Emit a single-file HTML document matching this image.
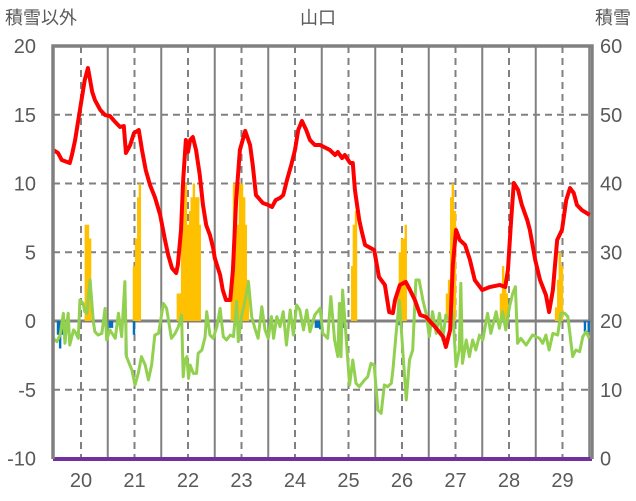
<!DOCTYPE html>
<html><head><meta charset="utf-8">
<style>
html,body{margin:0;padding:0;background:#fff;width:636px;height:501px;overflow:hidden}
svg text{font-family:"Liberation Sans","Noto Sans CJK JP",sans-serif;fill:#595959}
</style></head>
<body>
<svg id="chart" width="636" height="501" viewBox="0 0 636 501" xmlns="http://www.w3.org/2000/svg">
<text x="5" y="24" font-size="18">積雪以外</text>
<text x="318" y="24" font-size="18" text-anchor="middle">山口</text>
<text x="631" y="24" font-size="18" text-anchor="end">積雪</text>
<g id="grid"></g>
<g id="bars"></g>
<g id="lines"></g>
<g id="axes"></g>
</svg>
<script>
const yTicksLeft=[20,15,10,5,0,-5,-10];
const yTicksRight=[60,50,40,30,20,10,0];
const xYears=[20,21,22,23,24,25,26,27,28,29];
const redT=[19.48,19.57,19.64,19.79,19.83,19.89,19.98,20.07,20.13,20.21,20.26,20.36,20.45,20.54,20.64,20.73,20.80,20.84,20.92,20.99,21.08,21.14,21.21,21.29,21.38,21.48,21.57,21.63,21.70,21.78,21.81,21.87,21.91,21.96,22.00,22.04,22.09,22.15,22.22,22.28,22.34,22.41,22.47,22.50,22.60,22.65,22.71,22.79,22.84,22.90,22.97,23.07,23.16,23.21,23.27,23.35,23.40,23.50,23.57,23.64,23.72,23.78,23.85,23.93,24.00,24.06,24.13,24.21,24.28,24.37,24.47,24.65,24.75,24.80,24.88,24.93,25.03,25.08,25.12,25.20,25.25,25.31,25.48,25.57,25.68,25.76,25.83,25.87,25.96,26.07,26.15,26.24,26.34,26.45,26.62,26.77,26.82,26.90,26.95,27.01,27.08,27.18,27.27,27.36,27.50,27.64,27.83,27.93,27.98,28.04,28.09,28.17,28.24,28.34,28.39,28.49,28.58,28.69,28.75,28.82,28.90,28.99,29.07,29.14,29.21,29.27,29.36,29.51];
const redV=[12.44,12.22,11.71,11.49,12.07,13.16,15.35,17.53,18.40,16.65,16.07,15.35,14.98,14.91,14.47,14.11,14.18,12.22,12.80,13.67,13.89,12.44,10.98,9.89,9.02,7.71,5.89,4.80,3.85,3.49,4.07,6.62,10.25,13.16,12.29,13.16,13.38,12.44,10.62,8.44,6.98,6.25,5.31,4.58,3.35,2.25,1.53,1.53,3.71,8.80,12.44,13.82,12.80,11.35,9.16,8.80,8.58,8.44,8.29,8.80,8.95,9.16,10.25,11.35,12.44,13.89,14.55,13.89,13.16,12.80,12.80,12.44,12.07,12.29,11.85,12.07,11.49,11.49,9.53,7.35,6.47,5.53,5.16,3.20,2.62,0.65,0.58,1.53,2.62,2.84,2.25,1.53,0.44,0.29,-0.44,-1.16,-1.89,-0.65,4.07,6.62,5.89,5.53,4.44,2.98,2.25,2.47,2.62,2.47,3.71,7.35,10.04,9.53,8.44,7.35,6.62,4.44,2.98,1.89,0.65,2.25,5.89,6.62,8.80,9.67,9.31,8.44,8.07,7.71];
const greenT=[19.48,19.55,19.61,19.67,19.70,19.73,19.76,19.79,19.86,19.89,19.95,19.98,20.04,20.07,20.11,20.17,20.23,20.26,20.32,20.39,20.45,20.48,20.54,20.64,20.70,20.76,20.82,20.85,20.95,21.01,21.07,21.13,21.20,21.26,21.32,21.38,21.45,21.54,21.60,21.69,21.76,21.82,21.88,21.91,21.94,21.98,22.01,22.04,22.10,22.16,22.19,22.26,22.32,22.35,22.41,22.47,22.54,22.60,22.66,22.72,22.79,22.85,22.91,22.94,23.00,23.07,23.13,23.19,23.25,23.31,23.38,23.44,23.50,23.56,23.60,23.66,23.72,23.78,23.84,23.91,23.97,24.03,24.09,24.16,24.22,24.28,24.37,24.47,24.52,24.61,24.67,24.74,24.80,24.83,24.86,24.89,24.95,25.02,25.08,25.14,25.20,25.30,25.36,25.42,25.48,25.55,25.61,25.67,25.73,25.80,25.83,25.89,25.95,26.04,26.08,26.14,26.20,26.26,26.32,26.39,26.45,26.51,26.57,26.64,26.70,26.76,26.82,26.89,26.95,27.01,27.07,27.10,27.13,27.20,27.26,27.32,27.38,27.45,27.51,27.60,27.66,27.76,27.82,27.88,27.94,28.01,28.07,28.12,28.16,28.22,28.32,28.44,28.57,28.63,28.69,28.75,28.82,28.91,28.97,29.04,29.10,29.19,29.25,29.32,29.38,29.44,29.50];
const greenV=[-1.26,-1.50,-1.02,0.56,-1.62,-0.41,0.56,-1.75,-0.65,-0.78,-1.26,1.53,1.28,0.68,0.56,2.98,-0.05,-0.78,-1.02,-0.90,0.92,-1.38,-0.65,-1.26,0.56,-1.14,2.86,-2.59,-3.56,-4.65,-3.81,-2.59,-3.20,-4.29,-3.20,-1.02,-0.90,1.28,0.92,-1.26,-0.90,-0.41,0.44,-4.05,-2.84,-2.59,-4.17,-3.20,-3.81,-3.81,-2.35,-2.11,-1.14,0.68,-1.02,-1.26,-0.41,0.92,-1.14,-1.38,-1.02,-1.14,1.41,-1.50,0.32,1.53,2.86,0.32,-0.53,-1.26,1.04,-0.65,-1.26,0.32,-1.26,0.32,-0.41,0.68,-1.75,0.80,-1.02,1.16,0.80,-0.65,0.80,-0.78,0.44,0.92,-0.90,-1.26,1.77,-1.38,-2.59,1.28,-2.59,2.25,-0.90,-4.65,-2.84,-4.53,-4.78,-4.29,-4.05,-3.08,-3.20,-6.47,-6.72,-4.65,-4.78,-4.53,-3.56,-0.90,1.53,-3.56,-5.75,-2.84,-2.11,2.98,2.98,1.53,0.56,-1.14,0.68,-0.90,0.56,-1.38,0.44,0.07,0.68,-3.32,-2.11,2.74,-3.08,-1.38,-2.59,-1.38,-2.11,-1.02,-1.38,0.56,-0.90,0.68,-0.53,0.68,-0.65,1.04,2.01,2.50,-1.62,-1.26,-1.75,-1.02,-1.26,-1.62,-1.02,-2.11,-0.90,-1.02,0.56,0.56,0.32,-2.59,-2.11,-2.23,-1.14,-0.78,-1.26];
const orangeT=[20.09,20.13,20.17,20.99,21.03,21.07,21.10,21.81,21.85,21.89,21.93,21.96,22.00,22.04,22.07,22.11,22.15,22.19,22.22,22.82,22.86,22.90,22.93,22.97,23.01,23.05,23.08,23.12,25.07,25.10,25.14,25.93,25.96,26.00,26.04,26.07,26.84,26.88,26.92,26.95,26.99,27.85,27.89,27.93,27.96,28.88,28.92,28.95,28.99];
const orangeV=[7,7,6,4,6,9,10,2,2,10,10,10,7,8,9,10,9,9,7,2,10,10,7,10,10,9,7,3,4,7,8,2,5,6,6,7,2,3,9,10,8,2,4,3,2,1,3,5,4];
const blueT=[19.57,19.61,19.65,20.54,20.58,20.84,20.99,23.98,24.39,24.43,24.47,24.90,25.95,29.42,29.49];
const blueV=[-1,-2,-1,-0.5,-0.5,-2.5,-1,-0.6,-0.5,-0.5,-0.6,-0.5,-0.3,-0.8,-0.8];

const NS='http://www.w3.org/2000/svg';
const L=53,R=592,T=46,B=459;
const xs=t=>81+(t-20)*53.5;
const ys=v=>321-v*13.75;
function mk(tag,attrs,parent){const e=document.createElementNS(NS,tag);for(const k in attrs)e.setAttribute(k,attrs[k]);parent.appendChild(e);return e;}
const grid=document.getElementById('grid'),bars=document.getElementById('bars'),lines=document.getElementById('lines'),axes=document.getElementById('axes');

yTicksLeft.forEach(v=>{
  if(v===20||v===-10||v===0)return;
  const g=mk('line',{x1:L,x2:R,y1:ys(v),y2:ys(v),stroke:'#808080','stroke-width':2,'stroke-dasharray':'7,5'},grid);
  
  
});
xYears.forEach(y=>{
  const d=mk('line',{x1:xs(y),x2:xs(y),y1:T,y2:B,stroke:'#808080','stroke-width':2,'stroke-dasharray':'7,5'},grid);
  
  
  const s=mk('line',{x1:xs(y+0.5),x2:xs(y+0.5),y1:T,y2:B,stroke:'#808080','stroke-width':2},grid);
  
  
  const tx=mk('text',{x:xs(y),y:487,'font-size':20,'text-anchor':'middle'},axes);
  tx.textContent=y;
  
  
});
orangeT.forEach((t,i)=>{
  const v=orangeV[i];
  const r=mk('rect',{x:xs(t)-1.2,y:ys(v),width:2.4,height:ys(0)-ys(v),fill:'#FFC000'},bars);
  
  
});
blueT.forEach((t,i)=>{
  const v=blueV[i];
  const r=mk('rect',{x:xs(t)-1.2,y:ys(0),width:2.4,height:ys(v)-ys(0),fill:'#0070C0'},bars);
  
  
});
const zl=mk('line',{x1:L,x2:R,y1:ys(0),y2:ys(0),stroke:'#808080','stroke-width':3},grid);


const gp=mk('polyline',{points:greenT.map((t,i)=>xs(t)+','+ys(greenV[i])).join(' '),fill:'none',stroke:'#92D050','stroke-width':3,'stroke-linejoin':'round'},lines);


const rp=mk('polyline',{points:redT.map((t,i)=>xs(t)+','+ys(redV[i])).join(' '),fill:'none',stroke:'#FF0000','stroke-width':4,'stroke-linejoin':'round'},lines);


const pl=mk('line',{x1:L,x2:R,y1:B,y2:B,stroke:'#7030A0','stroke-width':4},lines);


const fr=mk('path',{d:`M${L},${B} L${L},${T} L${R},${T} L${R},${B}`,fill:'none',stroke:'#808080','stroke-width':3.5},axes);


yTicksLeft.forEach(v=>{
  const tx=mk('text',{x:36,y:ys(v)+7,'font-size':20,'text-anchor':'end'},axes);
  tx.textContent=v;
  
  
});
yTicksRight.forEach(v=>{
  const tx=mk('text',{x:600,y:ys(v/2-10)+7,'font-size':20},axes);
  tx.textContent=v;
  
  
});
</script>
</body></html>
